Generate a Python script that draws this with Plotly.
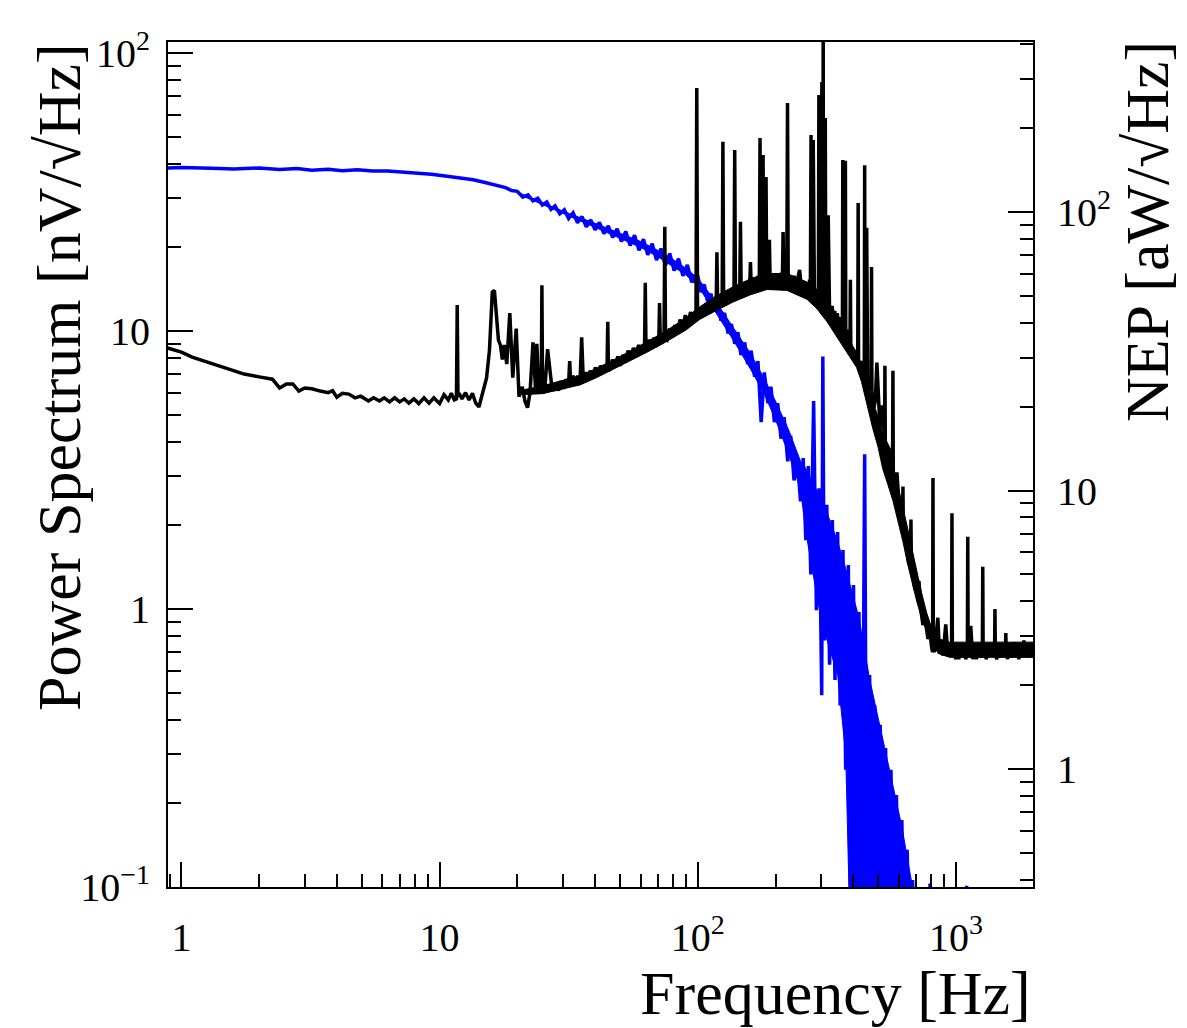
import math
import plotly.graph_objects as go

# ---------------- data ----------------
# blue spectrum  [nV/sqrt(Hz)]
blue_freq = [0.88, 1.0, 1.3, 1.6, 2.0, 2.4, 2.8, 3.2, 3.7, 4.2,
             4.8, 5.5, 6.3, 7.2, 8.2, 9.3, 10.5, 12.0, 13.5, 15.0,
             16.5, 18.0, 19.0,
             20, 21, 22, 23, 24, 25, 26, 27, 28, 29.2,
             30.4, 31.6, 32.9, 34.2, 35.6, 37.0, 38.5, 40.0, 41.6, 43.3,
             45.0, 46.8, 48.7, 50.6, 52.6, 54.7, 56.9, 59.2, 61.6, 64.0,
             66.6, 69.2, 72.0, 74.9, 77.9, 81.0, 84.2, 87.6, 91.1, 94.7,
             100, 103, 106, 109, 112.5, 116, 119.5, 123, 127, 131,
             135, 139, 143, 147, 152, 156, 161, 166, 171, 176,
             181, 187, 192, 198, 204, 210, 216, 223, 229, 236,
             243, 250,
             256, 262, 268, 274, 281, 288, 295, 302, 305, 309,
             316, 324, 332, 340, 348, 356, 365, 374, 383, 392,
             401, 411, 421, 431, 443, 452, 463, 474, 485, 497,
             509, 521, 534, 547, 560, 574, 588, 602, 617, 632,
             647, 663, 679, 695, 712, 780, 794, 808, 1090, 1100,
             1115]
blue_psd = [38.6, 38.7, 38.5, 38.3, 38.6, 38.1, 38.4, 37.9, 38.2, 37.7,
            38.0, 37.6, 37.6, 37.3, 37.0, 36.6, 36.1, 35.6, 35.0, 34.2,
            33.4, 32.8, 32.0,
            31.8, 30.3, 30.9, 29.4, 30.0, 28.4, 29.1, 27.4, 28.2, 26.4,
            27.3, 25.4, 26.6, 24.5, 25.8, 23.7, 25.1, 23.1, 24.6, 22.4,
            23.9, 21.7, 23.3, 21.0, 22.8, 20.3, 22.1, 19.5, 21.4, 18.8,
            20.6, 18.0, 19.8, 17.2, 19.0, 16.5, 18.2, 15.8, 17.3, 15.0,
            15.8, 13.8, 14.7, 12.8, 13.6, 11.8, 12.6, 10.9, 11.6, 9.8,
            10.6, 9.0, 9.9, 8.2, 9.1, 7.6, 8.5, 6.85, 7.8, 4.7,
            7.1, 5.5, 6.3, 4.7, 5.5, 4.1, 4.9, 3.4, 4.2, 2.9,
            3.5, 2.44,
            3.49, 1.77, 3.27, 1.33, 5.6, 0.99, 2.72, 0.49, 8.1, 0.77,
            2.37, 0.63, 2.09, 0.556, 1.89, 0.45, 1.63, 0.264, 1.44, 0.05,
            1.22, 0.05, 0.975, 0.05, 3.6, 0.05, 0.579, 0.05, 0.45, 0.05,
            0.383, 0.05, 0.316, 0.05, 0.264, 0.05, 0.214, 0.05, 0.174, 0.05,
            0.136, 0.05, 0.106, 0.05, 0.06, 0.05, 0.103, 0.05, 0.05, 0.101,
            0.05]

# core of the dense noise band of the blue spectrum
blue_band_freq = [20, 30, 40, 50, 60, 70, 80, 90, 100, 120,
                  140, 160, 180, 200, 225, 250, 262, 281, 302, 324,
                  348, 374, 392, 421, 463, 509, 560, 617, 679, 700]
blue_band_hi = [31.6, 27.0, 24.4, 22.5, 21.0, 19.5, 18.1, 16.8, 15.5, 12.4,
                10.0, 8.3, 6.8, 5.6, 4.4, 3.4, 3.2, 2.8, 2.5, 2.1,
                1.75, 1.4, 1.2, 0.93, 0.56, 0.37, 0.25, 0.165, 0.1, 0.085]
blue_band_lo = [31.2, 26.5, 23.6, 21.6, 20.0, 18.5, 17.1, 15.9, 14.5, 11.3,
                9.0, 7.3, 6.0, 4.8, 3.6, 2.7, 1.9, 1.3, 0.9, 0.72,
                0.58, 0.3, 0.05, 0.05, 0.05, 0.05, 0.05, 0.05, 0.05, 0.05]

# black spectrum (NEP curve), read against the left axis scale
black_freq = [0.88, 1.0, 1.1, 1.25, 1.5, 1.75, 2.0, 2.25, 2.4, 2.55,
              2.7, 2.85, 3.0, 3.2, 3.45, 3.7, 3.85, 4.0, 4.2, 4.45,
              4.7, 4.95, 5.3, 5.55, 5.85, 6.1, 6.4, 6.7, 7.0, 7.3,
              7.6, 7.95, 8.3, 8.7, 9.1, 9.5, 10.0, 10.4, 10.8, 11.1,
              11.4, 11.62, 11.7, 11.78, 11.9, 12.2, 12.6, 13.0, 13.4, 13.8,
              14.2, 14.7, 15.2, 15.6, 16.0, 16.3, 16.6, 16.9, 17.2, 17.5,
              17.8, 18.2, 18.7, 19.2, 19.8, 20.3, 20.9, 21.4, 21.9, 22.4,
              23.0, 23.5, 23.8, 24.2, 24.75, 24.9, 25.05, 25.5, 26.2, 27.1,
              27.7, 28.3, 28.9, 29.5, 30.2, 30.9, 31.6, 31.9, 32.2, 32.9,
              33.6, 34.3, 35.0, 35.5, 36.0, 36.7, 37.5, 38.3, 39.2, 40.1,
              41.0, 42.0, 43.0, 44.0, 44.5, 44.8, 45.1, 45.8, 46.8, 47.8,
              49.0, 50.1, 51.3, 52.5, 53.7, 55.0, 56.3, 57.6, 59.0, 60.4,
              61.5, 62.2, 62.6, 63.0, 63.8, 65.0, 66.2, 67.8, 69.3, 70.6,
              71.1, 71.6, 72.6, 74.0, 74.5, 75.0, 76.0, 77.8, 79.7, 81.5,
              83.5, 85.4, 87.4, 89.5, 91.6, 93.7, 95.9, 98.4, 99.1, 99.8,
              100.5, 102.9, 105.3, 107.8, 110.3, 112.9, 115.6, 117.8, 118.6, 119.4,
              121.1, 123, 124.3, 125.1, 125.9, 127.5, 130, 133, 136, 138.1,
              139, 139.9, 141.5, 144, 145.4, 146.3, 147.2, 149.4, 153, 156.6,
              159, 160, 161, 163, 166, 169, 171.5, 173.1, 174.2, 175.3,
              176.5, 177.9, 179, 180.1, 181.5, 182.7, 183.8, 184.9, 186.5, 188.2,
              189.4, 190.6, 192, 195, 198, 201, 204, 207.5, 211, 212.7,
              214, 215.3, 217, 220, 221.2, 222.6, 224, 225, 228, 232,
              236, 240, 244, 248, 252, 256, 260, 264, 268, 271,
              273, 274.6, 276, 277, 278.6, 280, 281.4, 283, 286, 289.5,
              292, 293.2, 294.5, 295.8, 298, 300.8, 302.4, 303.8, 305.2, 306,
              306.8, 308.5, 310.5, 311.8, 313.1, 315, 318.6, 320, 321.4, 323.6,
              327, 331.2, 335, 339, 343, 347, 351, 355, 359, 362,
              363.3, 364.5, 365.7, 367, 370, 371.8, 373, 374.2, 376, 381,
              386, 388.7, 390, 391.3, 395, 399, 404, 409, 413, 416.5,
              418, 419.5, 423, 428, 433, 438, 441.5, 443, 444.5, 447,
              449.5, 451, 452.5, 455, 459, 464, 469.4, 471, 472.6, 476,
              481, 487, 494, 507.6, 516.8, 529, 530.7, 532.5, 540.4, 555,
              568, 570, 572, 580.3, 590.8, 606.6, 621, 623.3, 625.5, 634.5,
              646, 657, 667, 669.4, 671.7, 681.4, 693.7, 718.9, 731.7, 744.9,
              758.4, 778.9, 792.9, 803, 811.8, 814.6, 817.4, 826, 836, 851,
              863, 874, 890, 902, 913, 930, 945, 961.7, 965, 968.3,
              980, 998, 1012, 1025, 1043, 1060, 1075, 1091, 1107, 1111,
              1115, 1125, 1141, 1161, 1180, 1200, 1222, 1245, 1265.6, 1270,
              1274.4, 1290, 1310, 1335, 1360, 1385, 1411, 1416, 1421, 1440,
              1465, 1491, 1515, 1540, 1554.6, 1560, 1565.4, 1585, 1610, 1646,
              1676, 1700, 1721, 1752, 1780, 1800, 1833, 1860, 1883, 1917,
              1952, 1975, 2005]
black_psd = [8.7, 8.4, 8.06, 7.74, 7.3, 7.0, 6.84, 6.71, 6.24, 6.45,
             6.45, 6.08, 6.24, 6.2, 6.08, 6.0, 6.1, 5.78, 5.97, 5.93,
             5.75, 5.83, 5.6, 5.75, 5.6, 5.75, 5.56, 5.75, 5.56, 5.7,
             5.5, 5.7, 5.48, 5.75, 5.5, 5.75, 5.48, 5.9, 5.65, 5.97,
             5.65, 5.7, 12.4, 5.8, 5.97, 5.7, 6.0, 5.65, 5.97, 5.5,
             5.33, 6.0, 6.78, 8.54, 13.8, 14.0, 11.0, 9.28, 8.9, 7.9,
             8.9, 7.6, 11.6, 6.8, 10.2, 5.8, 6.3, 5.6, 5.3, 6.0,
             9.1, 6.3, 9.0, 6.2, 6.1, 14.6, 6.1, 6.0, 8.6, 6.5,
             6.1, 6.5, 6.1, 6.6, 6.2, 6.7, 6.5, 7.8, 6.4, 6.9,
             6.5, 6.9, 6.6, 9.5, 6.7, 7.1, 6.7, 7.2, 6.8, 7.4,
             7.0, 7.5, 7.1, 7.5, 7.2, 10.8, 7.2, 7.3, 7.9, 7.4,
             8.1, 7.5, 8.2, 7.7, 8.5, 8.0, 8.7, 8.2, 8.9, 8.4,
             8.8, 8.6, 14.9, 8.7, 8.7, 9.3, 8.8, 9.45, 8.9, 9.0,
             12.6, 9.1, 9.3, 9.2, 23.7, 9.4, 9.3, 10.2, 9.5, 10.5,
             9.8, 11.0, 10.25, 11.4, 10.5, 11.7, 11.0, 11.3, 74.8, 11.1,
             11.2, 12.1, 11.5, 12.5, 11.7, 12.9, 12.0, 12.3, 19.2, 12.2,
             12.4, 13.3, 12.8, 47.9, 13.0, 12.9, 14.0, 13.2, 14.2, 13.5,
             44.8, 13.8, 13.6, 14.6, 14.0, 24.7, 14.3, 14.0, 15.0, 14.3,
             14.9, 17.7, 14.5, 14.6, 15.6, 14.8, 15.8, 15.0, 49.5, 15.2,
             15.2, 15.0, 43.0, 15.3, 15.5, 15.1, 35.8, 15.4, 15.0, 15.4,
             21.3, 15.1, 15.3, 14.6, 15.9, 14.9, 16.1, 15.0, 16.2, 15.5,
             22.7, 15.8, 15.3, 14.8, 15.6, 66.1, 15.2, 15.0, 15.6, 14.7,
             15.8, 14.5, 15.5, 16.6, 14.2, 15.0, 14.0, 14.8, 13.6, 15.3,
             14.4, 50.7, 14.9, 14.5, 14.2, 48.6, 13.9, 13.4, 14.0, 13.0,
             14.2, 13.6, 70.6, 13.9, 13.5, 13.3, 78.7, 13.5, 13.2, 140.0,
             13.0, 13.2, 12.9, 58.4, 13.1, 12.8, 12.5, 26.1, 12.7, 12.4,
             11.8, 12.3, 11.2, 11.8, 10.8, 11.6, 10.5, 11.2, 10.3, 10.9,
             10.3, 41.2, 10.4, 10.0, 10.6, 9.9, 41.0, 10.0, 9.7, 10.1,
             9.0, 9.2, 15.3, 9.0, 8.6, 7.9, 8.4, 7.6, 8.1, 8.2,
             28.9, 7.9, 7.4, 7.8, 7.0, 7.5, 7.4, 39.5, 7.3, 6.8,
             7.0, 23.5, 6.8, 6.6, 6.1, 6.4, 6.3, 17.0, 6.0, 5.6,
             5.3, 5.6, 7.7, 4.5, 5.4, 4.1, 7.5, 4.0, 3.9, 3.7,
             3.4, 7.2, 3.0, 2.57, 3.1, 2.1, 2.1, 2.76, 2.0, 1.78,
             1.56, 1.45, 1.6, 2.1, 1.5, 1.34, 1.17, 1.26, 0.99, 0.875,
             0.93, 0.78, 0.83, 0.74, 0.70, 2.96, 0.72, 0.70, 0.77, 0.93,
             0.69, 0.76, 0.68, 0.77, 0.88, 0.68, 0.74, 0.70, 2.21, 0.72,
             0.72, 0.66, 0.75, 0.66, 0.74, 0.67, 0.75, 0.66, 0.69, 1.82,
             0.70, 0.68, 0.87, 0.66, 0.75, 0.66, 0.74, 0.67, 0.70, 1.42,
             0.71, 0.73, 0.66, 0.75, 0.68, 0.74, 0.70, 1.0, 0.69, 0.66,
             0.75, 0.67, 0.74, 0.68, 0.70, 0.82, 0.70, 0.66, 0.75, 0.67,
             0.76, 0.68, 0.75, 0.66, 0.74, 0.67, 0.77, 0.68, 0.73, 0.67,
             0.74, 0.69, 0.72]

# core of the dense noise band of the black spectrum
black_band_freq = [20.4, 25, 29.2, 35, 40.6, 47, 54.5, 63, 73.2, 81,
                   90.3, 101.6, 115, 136.6, 160, 185.3, 221.6, 264.9, 290, 316.6,
                   340, 364.5, 390, 412, 430, 451, 475, 500, 520, 545,
                   570, 595, 623, 650, 680, 706, 735, 770, 810, 860,
                   945, 2005]
black_band_hi = [6.1, 6.35, 6.6, 6.9, 7.35, 7.85, 8.45, 9.1, 9.85, 10.45,
                 11.2, 12.2, 13.2, 14.4, 15.4, 16.1, 16.1, 15.0, 13.9, 12.6,
                 11.3, 10.3, 9.1, 8.4, 7.6, 6.6, 5.6, 4.9, 4.3, 3.8,
                 3.3, 2.8, 2.35, 1.95, 1.6, 1.35, 1.15, 0.97, 0.84, 0.78,
                 0.76, 0.76]
black_band_lo = [5.9, 5.95, 6.15, 6.4, 6.8, 7.25, 7.8, 8.35, 9.0, 9.5,
                 10.1, 11.0, 11.7, 12.7, 13.5, 14.1, 14.0, 13.0, 12.0, 10.8,
                 9.7, 8.8, 8.0, 7.4, 6.6, 5.5, 4.5, 3.8, 3.2, 2.8,
                 2.45, 2.1, 1.75, 1.45, 1.22, 1.06, 0.93, 0.83, 0.74, 0.69,
                 0.67, 0.67]

# axis ticks
x_major = [1, 10, 100, 1000]
x_labels = ["1", "10", "10<sup>2</sup>", "10<sup>3</sup>"]
x_minor = [0.9] + [m * d for d in (1, 10, 100) for m in range(2, 10)]
y_major = [0.1, 1, 10, 100]
y_labels = ["10<sup>\u22121</sup>", "1", "10", "10<sup>2</sup>"]
y_minor = [m * d for d in (0.1, 1, 10) for m in range(2, 10)]
y2_major = [1, 10, 100]
y2_labels = ["1", "10", "10<sup>2</sup>"]
y2_minor = [m * d for d in (0.1, 1, 10, 100) for m in range(2, 10)]

x_range = [math.log10(0.887), math.log10(1988)]
y_range = [-1.0, 2.0396]
y2_range = [-0.4237, 2.6104]

FONT = "Liberation Serif"
BLUE = "#0000ff"

fig = go.Figure()
# blue: noise band core + line
fig.add_trace(go.Scatter(x=blue_band_freq + blue_band_freq[::-1],
                         y=blue_band_hi + blue_band_lo[::-1],
                         mode="lines", fill="toself", fillcolor=BLUE,
                         line=dict(color=BLUE, width=1),
                         hoverinfo="skip", showlegend=False))
fig.add_trace(go.Scatter(x=blue_freq, y=blue_psd, mode="lines",
                         line=dict(color=BLUE, width=3.5),
                         hoverinfo="skip", showlegend=False))
# black: noise band core + line
fig.add_trace(go.Scatter(x=black_band_freq + black_band_freq[::-1],
                         y=black_band_hi + black_band_lo[::-1],
                         mode="lines", fill="toself", fillcolor="black",
                         line=dict(color="black", width=1),
                         hoverinfo="skip", showlegend=False))
fig.add_trace(go.Scatter(x=black_freq, y=black_psd, mode="lines",
                         line=dict(color="black", width=3.5),
                         hoverinfo="skip", showlegend=False))
# right-hand NEP axis
fig.add_trace(go.Scatter(x=[], y=[], yaxis="y2", mode="lines",
                         hoverinfo="skip", showlegend=False))

tick_common = dict(ticks="inside", ticklen=25, tickwidth=2, tickcolor="black",
                   showline=True, linecolor="black", linewidth=2,
                   showgrid=False, zeroline=False,
                   tickfont=dict(family=FONT, size=40, color="black"))

fig.update_layout(
    width=1187, height=1028,
    margin=dict(l=168, r=154, t=42, b=141, pad=0),
    paper_bgcolor="white", plot_bgcolor="white",
    font=dict(family=FONT, color="black"),
    xaxis=dict(type="log", range=x_range, tickmode="array",
               tickvals=x_major, ticktext=x_labels, mirror=True,
               ticklabelstandoff=14,
               minor=dict(tickvals=x_minor, ticks="inside", ticklen=13,
                          tickwidth=2, tickcolor="black", showgrid=False),
               **tick_common),
    yaxis=dict(type="log", range=y_range, tickmode="array",
               tickvals=y_major, ticktext=y_labels, side="left",
               ticklabelstandoff=8,
               minor=dict(tickvals=y_minor, ticks="inside", ticklen=13,
                          tickwidth=2, tickcolor="black", showgrid=False),
               **tick_common),
    yaxis2=dict(type="log", range=y2_range, tickmode="array",
                tickvals=y2_major, ticktext=y2_labels, side="right",
                overlaying="y", anchor="x", ticklabelstandoff=14,
                minor=dict(tickvals=y2_minor, ticks="inside", ticklen=13,
                           tickwidth=2, tickcolor="black", showgrid=False),
                **tick_common),
    annotations=[
        dict(text="Frequency [Hz]", xref="paper", yref="paper",
             x=1.0, y=-0.1254, xanchor="right", yanchor="middle",
             showarrow=False, font=dict(family=FONT, size=62, color="black")),
        dict(text="Power Spectrum [nV/\u221aHz]", xref="paper", yref="paper",
             x=-0.126, y=0.6036, xanchor="center", yanchor="middle",
             textangle=-90, showarrow=False,
             font=dict(family=FONT, size=62, color="black")),
        dict(text="NEP [aW/\u221aHz]", xref="paper", yref="paper",
             x=1.1318, y=0.7751, xanchor="center", yanchor="middle",
             textangle=-90, showarrow=False,
             font=dict(family=FONT, size=62, color="black")),
    ],
)

fig.write_html("out.html")
